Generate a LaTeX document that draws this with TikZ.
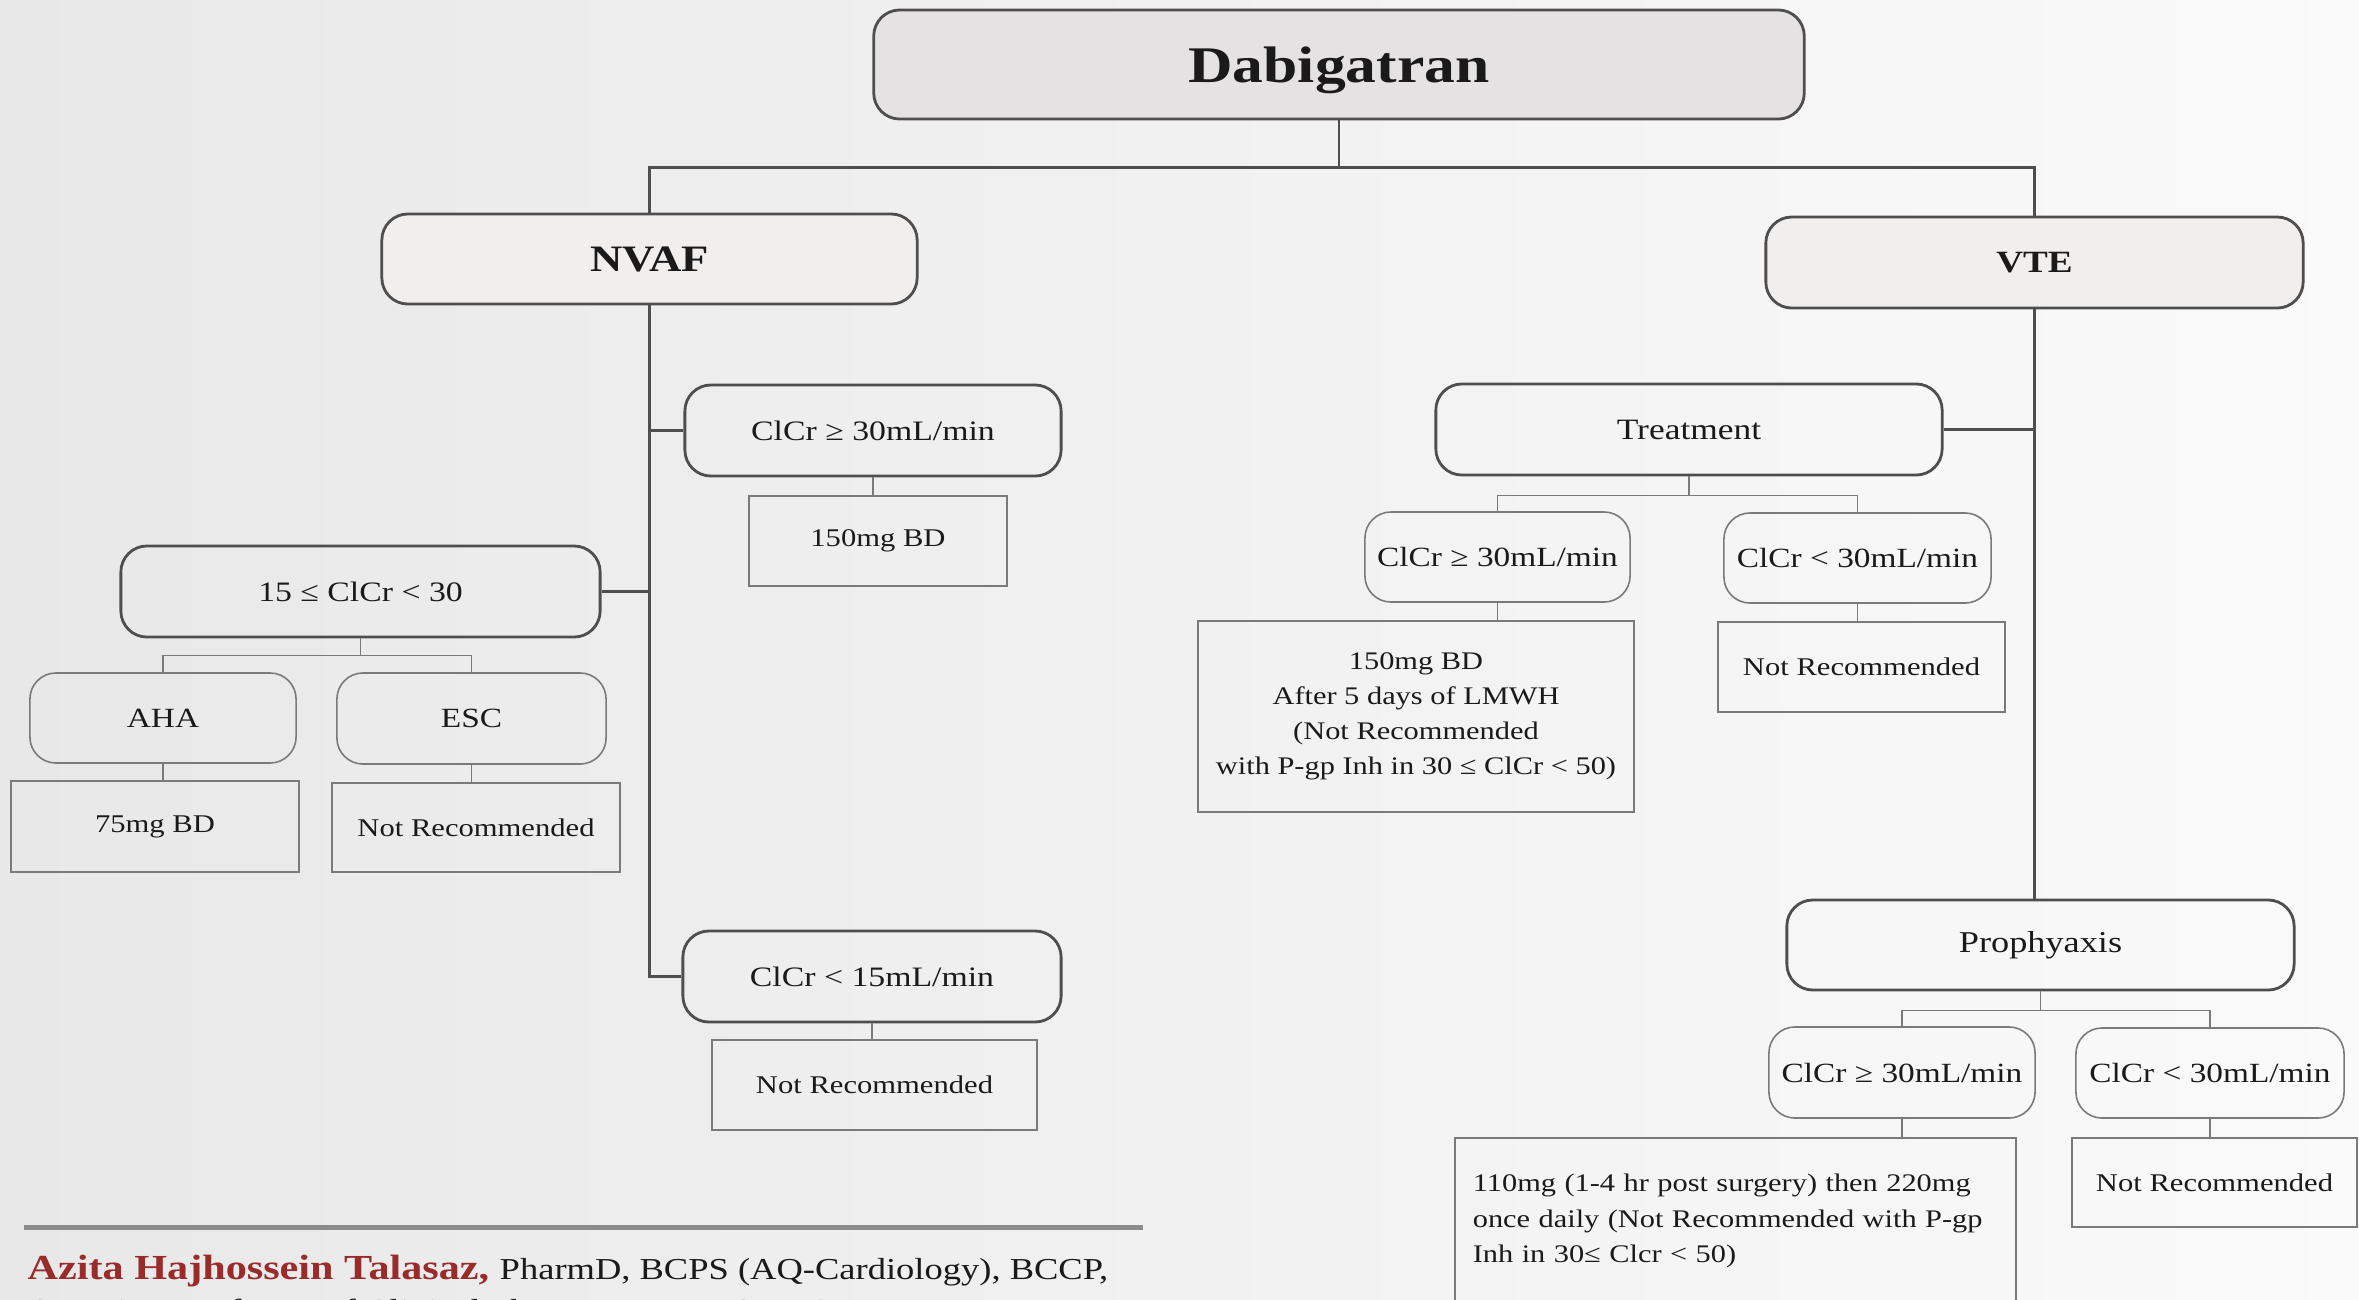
\documentclass[tikz,border=0pt]{standalone}
\usepackage{fontspec}
\setmainfont{Liberation Serif}[FakeStretch=1.2]
\definecolor{rootfill}{HTML}{E4E2E3}
\definecolor{catfill}{HTML}{F0EFEE}
\definecolor{edge}{HTML}{4E4E4E}
\definecolor{thin}{HTML}{7A7A7A}
\definecolor{authred}{HTML}{992B2B}
\definecolor{ink}{HTML}{1A1A1A}
\begin{document}
\begin{tikzpicture}[x=0.01cm,y=-0.01cm,
  box/.style={draw=edge, line width=0.028cm, rounded corners=0.26cm, inner sep=0pt, text=ink},
  root/.style={box, fill=rootfill, font=\fontsize{14.6}{16}\selectfont\bfseries, text depth=0pt},
  cat/.style={box, fill=catfill},
  cond/.style={box, font=\fontsize{8}{10}\selectfont},
  sub/.style={draw=thin, line width=0.016cm, rounded corners=0.26cm, inner sep=0pt, text=ink, font=\fontsize{7.9}{10}\selectfont},
  res/.style={draw=thin, line width=0.014cm, inner sep=0pt, text=ink, font=\fontsize{7.25}{10}\selectfont},
  link/.style={draw=edge, line width=0.028cm},
  tlink/.style={draw=thin, line width=0.016cm},
]
\useasboundingbox (0,0) rectangle (2359,1299);
\fill[left color=black!9, right color=black!2] (0,0) rectangle (2359,1299);

% root and categories
\node[root, minimum width=9.30cm, minimum height=1.09cm] (dab) at (1339,64.5) {Dabigatran};
\node[cat, minimum width=5.35cm, minimum height=0.90cm, font=\fontsize{10.6}{12}\selectfont\bfseries] (nvaf) at (649.5,259) {NVAF};
\node[cat, minimum width=5.37cm, minimum height=0.91cm, font=\fontsize{8.8}{10}\selectfont\bfseries] (vte) at (2034.5,262.5) {VTE};

% NVAF branch
\node[cond, minimum width=3.76cm, minimum height=0.91cm] (nv30) at (873,430.5) {ClCr ≥ 30mL/min};
\node[res, minimum width=2.58cm, minimum height=0.90cm] (nv150) at (878,541) {150mg BD};
\node[cond, minimum width=4.79cm, minimum height=0.91cm] (nv1530) at (360.5,591.5) {15 ≤ ClCr < 30};
\node[sub, minimum width=2.66cm, minimum height=0.90cm] (aha) at (163,718) {AHA};
\node[sub, minimum width=2.69cm, minimum height=0.91cm] (esc) at (471.5,718.5) {ESC};
\node[res, minimum width=2.88cm, minimum height=0.91cm] (aha75) at (155,826.5) {75mg BD};
\node[res, minimum width=2.88cm, minimum height=0.89cm] (escnr) at (476,827.5) {Not Recommended};
\node[cond, minimum width=3.78cm, minimum height=0.91cm] (nv15) at (872,976.5) {ClCr < 15mL/min};
\node[res, minimum width=3.25cm, minimum height=0.90cm] (nv15nr) at (874.5,1085) {Not Recommended};

% VTE branch
\node[cond, minimum width=5.06cm, minimum height=0.91cm, font=\fontsize{8.4}{10}\selectfont] (treat) at (1689,429.5) {Treatment};
\node[sub, minimum width=2.65cm, minimum height=0.90cm] (tr30) at (1497.5,557) {ClCr ≥ 30mL/min};
\node[sub, minimum width=2.67cm, minimum height=0.90cm] (trl30) at (1857.5,558) {ClCr < 30mL/min};
\node[res, minimum width=4.36cm, minimum height=1.91cm, align=center, font=\fontsize{7.2}{10}\selectfont] (tr150) at (1416,716.5)
  {150mg BD\\After 5 days of LMWH\\(Not Recommended\\with P-gp Inh in 30 ≤ ClCr < 50)};
\node[res, minimum width=2.87cm, minimum height=0.90cm] (trnr) at (1861.5,667) {Not Recommended};

\node[cond, minimum width=5.07cm, minimum height=0.90cm, font=\fontsize{8.6}{10}\selectfont] (proph) at (2040.5,945) {Prophyaxis};
\node[sub, minimum width=2.66cm, minimum height=0.91cm] (pr30) at (1902,1072.5) {ClCr ≥ 30mL/min};
\node[sub, minimum width=2.68cm, minimum height=0.90cm] (prl30) at (2210,1073) {ClCr < 30mL/min};
\node[res, minimum width=5.61cm, minimum height=1.66cm, align=left, text width=5.25cm, font=\fontsize{7.2}{10}\selectfont] (pr110) at (1735.5,1221)
  {110mg (1-4 hr post surgery) then 220mg\\once daily (Not Recommended with P-gp\\Inh in 30≤ Clcr < 50)};
\node[res, minimum width=2.85cm, minimum height=0.89cm] (prnr) at (2214.5,1182.5) {Not Recommended};

% connectors: top level
\draw[link] (dab.south) -- ++(0,47) coordinate (jtop);
\draw[link] (jtop) -| (nvaf.north);
\draw[link] (jtop) -| (vte.north);

% NVAF connectors
\draw[link] (nvaf.south) |- (nv15.west);
\draw[link] (nv30.west) -- (nv30.west -| nvaf.south);
\draw[link] (nv1530.east) -- (nv1530.east -| nvaf.south);
\draw[tlink] (nv30.south) -- (nv30.south |- nv150.north);
\draw[tlink] (nv1530.south) -- ++(0,17) coordinate (j1530);
\draw[tlink] (j1530) -| (aha.north);
\draw[tlink] (j1530) -| (esc.north);
\draw[tlink] (aha.south) -- (aha.south |- aha75.north);
\draw[tlink] (esc.south) -- (esc.south |- escnr.north);
\draw[tlink] (nv15.south) -- (nv15.south |- nv15nr.north);

% VTE connectors
\draw[link] (vte.south) -- (vte.south |- proph.north);
\draw[link] (treat.east) -- (treat.east -| vte.south);
\draw[tlink] (treat.south) -- ++(0,19) coordinate (jt);
\draw[tlink] (jt) -| (tr30.north);
\draw[tlink] (jt) -| (trl30.north);
\draw[tlink] (tr30.south) -- (tr30.south |- tr150.north);
\draw[tlink] (trl30.south) -- (trl30.south |- trnr.north);
\draw[tlink] (proph.south) -- ++(0,19) coordinate (jp);
\draw[tlink] (jp) -| (pr30.north);
\draw[tlink] (jp) -| (prl30.north);
\draw[tlink] (pr30.south) -- (pr30.south |- pr110.north);
\draw[tlink] (prl30.south) -- (prl30.south |- prnr.north);

% footer
\coordinate (ruleL) at (24,1227);
\coordinate (ruleR) at (1143,1227);
\draw[line width=0.05cm, draw=black!45] (ruleL) -- (ruleR);
\node[anchor=base west, inner sep=0pt, text=ink] (author) at (27,1279)
  {{\fontsize{10}{12}\selectfont\bfseries\color{authred}Azita Hajhossein Talasaz,} {\fontsize{8.65}{12}\selectfont PharmD, BCPS (AQ-Cardiology), BCCP,}};
\node[anchor=base west, inner sep=0pt, text=ink, font=\fontsize{8.65}{12}\selectfont] (affil) at (27,1320)
  {Associate Professor of Clinical Pharmacy, TUMS, IRAN};
\end{tikzpicture}
\end{document}
